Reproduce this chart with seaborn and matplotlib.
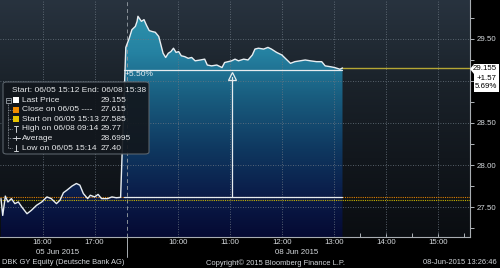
import numpy as np
import pandas as pd
import matplotlib
matplotlib.use("Agg")
import matplotlib.pyplot as plt
import seaborn as sns
from matplotlib.colors import LinearSegmentedColormap
from matplotlib.patches import FancyBboxPatch, Rectangle, Polygon
from matplotlib.lines import Line2D

# ---------------- data ----------------
day1_times = ["15:12", "15:14", "15:17", "15:20", "15:24", "15:28", "15:32", "15:36",
              "15:42", "15:47", "15:53", "15:59", "16:05", "16:10", "16:16", "16:20",
              "16:24", "16:28", "16:34", "16:39", "16:43", "16:47", "16:52", "16:55",
              "17:00", "17:04", "17:08", "17:15", "17:20", "17:25", "17:30"]
day1_prices = [27.60, 27.40, 27.63, 27.56, 27.60, 27.54, 27.56, 27.50,
               27.42, 27.46, 27.52, 27.56, 27.62, 27.60, 27.54, 27.58,
               27.67, 27.70, 27.75, 27.78, 27.76, 27.66, 27.60, 27.64,
               27.62, 27.65, 27.60, 27.60, 27.62, 27.61, 27.615]

day2_times = ["09:00", "09:04", "09:07", "09:11", "09:13", "09:14", "09:18", "09:21",
              "09:24", "09:27", "09:30", "09:34", "09:38", "09:40", "09:43", "09:46",
              "09:49", "09:52", "09:55", "09:58", "10:01", "10:04", "10:08", "10:12",
              "10:16", "10:20", "10:26", "10:31", "10:34", "10:39", "10:45", "10:51",
              "10:54", "10:58", "11:02", "11:06", "11:10", "11:16", "11:21", "11:26",
              "11:29", "11:33", "11:39", "11:44", "11:48", "11:54", "12:00", "12:06",
              "12:10", "12:15", "12:21", "12:27", "12:33", "12:40", "12:46", "12:50",
              "12:56", "13:01", "13:07", "13:10"]
day2_prices = [29.40, 29.51, 29.61, 29.65, 29.71, 29.77, 29.71, 29.73,
               29.66, 29.60, 29.59, 29.58, 29.53, 29.45, 29.33, 29.28,
               29.33, 29.35, 29.39, 29.34, 29.35, 29.30, 29.29, 29.27,
               29.28, 29.24, 29.25, 29.26, 29.19, 29.18, 29.19, 29.16,
               29.22, 29.23, 29.24, 29.26, 29.24, 29.26, 29.25, 29.31,
               29.38, 29.39, 29.38, 29.40, 29.38, 29.34, 29.31, 29.25,
               29.21, 29.23, 29.24, 29.25, 29.24, 29.23, 29.23, 29.18,
               29.17, 29.16, 29.14, 29.155]

last_price = 29.155
prev_close = 27.615
start_price = 27.585
band_level = 29.13
arrow_time = "11:02"
band_label = "+5.50%"
price_box = ["29.155", "+1.57", "5.69%"]

day1_hours = ["16:00", "17:00"]
day2_hours = ["10:00", "11:00", "12:00", "13:00", "14:00", "15:00"]
day1_label = "05 Jun 2015"
day2_label = "08 Jun 2015"
y_ticks = [27.50, 28.00, 28.50, 29.00, 29.50]
y_tick_labels = ["27.50", "28.00", "28.50", "", "29.50"]

legend_header = "Start: 06/05 15:12 End: 06/08 15:38"
legend_labels = ["Last Price", "Close on 06/05 ----", "Start on 06/05 15:13",
                 "High on 06/08 09:14", "Average", "Low on 06/05 15:14"]
legend_values = ["29.155", "27.615", "27.585", "29.77", "28.6995", "27.40"]

footer_left = "DBK GY Equity (Deutsche Bank AG)"
footer_mid = "Copyright\u00a9 2015 Bloomberg Finance L.P."
footer_right = "08-Jun-2015 13:26:46"

# ---------------- helpers ----------------
DAY2_OFFSET = 144

def pos(t, day):
    h, m = map(int, t.split(":"))
    if day == 1:
        return (h * 60 + m) - (15 * 60 + 12)
    return DAY2_OFFSET + (h * 60 + m) - 9 * 60

W, H = 500, 268
def fx(x): return x / W
def fy(y): return 1 - y / H

sns.set_theme(style="dark")
plt.rcParams["font.family"] = ["Liberation Sans", "DejaVu Sans"]

fig = plt.figure(figsize=(5.0, 2.68), dpi=100, facecolor="black")
ax = fig.add_axes([0, 1 - 237 / H, 470 / W, 237 / H])

XMIN, XMAX = -1.15, 541.1
YMIN, YMAX = 27.143, 29.964

df = pd.DataFrame({
    "pos": [pos(t, 1) for t in day1_times] + [pos(t, 2) for t in day2_times],
    "price": day1_prices + day2_prices,
})

# background gradient
bg_cmap = LinearSegmentedColormap.from_list("bg", ["#0a0d11", "#12171d", "#1b232b", "#28333f"])
grad = np.linspace(0, 1, 256).reshape(-1, 1)
ax.imshow(grad, extent=[XMIN, XMAX, YMIN, YMAX], origin="lower", aspect="auto",
          cmap=bg_cmap, zorder=0)

# fill gradient clipped to area under the price
fill_cmap = LinearSegmentedColormap.from_list(
    "fill", [(0.0, "#050a33"), (0.17, "#0a1b48"), (0.37, "#0f3860"),
             (0.6, "#195e80"), (0.78, "#2582a2"), (1.0, "#3098b0")])
poly = ax.fill_between(df["pos"], df["price"], YMIN, facecolor="none", edgecolor="none")
im = ax.imshow(grad, extent=[XMIN, XMAX, YMIN, YMAX], origin="lower", aspect="auto",
               cmap=fill_cmap, zorder=1)
im.set_clip_path(poly.get_paths()[0], transform=ax.transData)

# grid
grid_kw = dict(color="#6c7782", lw=0.6, ls=(0, (1, 2)), zorder=2)
for yv in y_ticks:
    ax.axhline(yv, **grid_kw)
hour_pos = [pos(t, 1) for t in day1_hours] + [pos(t, 2) for t in day2_hours]
for xv in hour_pos:
    ax.axvline(xv, **grid_kw)
sep = DAY2_OFFSET + 1
ax.axvline(sep, color="#8a9299", lw=0.7, ls=(0, (4, 3)), zorder=2)

# reference lines
ax.axhline(prev_close, color="#e08000", lw=0.8, ls=(0, (1, 1)), zorder=3)
ax.axhline(start_price, color="#c9b400", lw=0.8, ls=(0, (1, 1)), zorder=3)
d2s, d2e = pos(day2_times[0], 2) - 2, pos(day2_times[-1], 2)
ax.plot([d2s, d2e], [prev_close, prev_close], color="#e6ecef", lw=0.9, zorder=3)
ax.plot([d2s, d2e], [band_level, band_level], color="#e6ecef", lw=0.9, zorder=3)
ax.plot([d2e, XMAX], [last_price, last_price], color="#b5a634", lw=1.0, zorder=3)
xa = pos(arrow_time, 2)
ax.plot([xa, xa], [prev_close, band_level - 0.08], color="#e6ecef", lw=0.9, zorder=3)
ax.plot([xa], [band_level - 0.075], marker="^", ms=6, mfc="none", mec="#e6ecef", mew=0.9, zorder=3)

# price line
sns.lineplot(data=df, x="pos", y="price", color="#e8eef2", lw=1.0, estimator=None,
             sort=False, ax=ax, zorder=5)

ax.set_xlim(XMIN, XMAX)
ax.set_ylim(YMIN, YMAX)
ax.set_xlabel("")
ax.set_ylabel("")
ax.grid(False)

# axes styling
for s in ["left", "top"]:
    ax.spines[s].set_visible(False)
for s in ["right", "bottom"]:
    ax.spines[s].set_visible(True)
    ax.spines[s].set_color("#a8adb2")
    ax.spines[s].set_linewidth(0.8)

ax.set_xticks(hour_pos)
ax.set_xticklabels(day1_hours + day2_hours)
minor_x = [pos("15:30", 1), pos("16:30", 1), pos("17:30", 1), pos("09:00", 2)] + \
          [pos(f"{h:02d}:30", 2) for h in range(9, 16)]
ax.set_xticks(minor_x, minor=True)
ax.tick_params(axis="x", which="both", direction="in", length=3, width=0.7, color="#b0b5ba",
               labelcolor="#d4d8dc", labelsize=5.7, pad=1.5, bottom=True)

ax.yaxis.tick_right()
ax.set_yticks(y_ticks)
ax.set_yticklabels(y_tick_labels)
ax.set_yticks(np.arange(27.25, 29.9, 0.25), minor=True)
ax.tick_params(axis="y", which="both", direction="out", length=3, width=0.7, color="#b0b5ba",
               labelcolor="#d4d8dc", labelsize=5.7, pad=1.5, right=True, left=False)

# date labels under ticks
fig.text(fx(58), fy(253), day1_label, ha="center", va="center", fontsize=5.7, color="#d4d8dc")
fig.text(fx(297), fy(253), day2_label, ha="center", va="center", fontsize=5.7, color="#d4d8dc")
fig.add_artist(Line2D([fx(127), fx(127)], [fy(237), fy(257)], color="#a8adb2", lw=0.7))

# footer
fig.text(fx(2), fy(263), footer_left, ha="left", va="center", fontsize=5.4, color="#d4d8dc")
fig.text(fx(275), fy(263), footer_mid, ha="center", va="center", fontsize=5.4, color="#d4d8dc")
fig.text(fx(497), fy(263), footer_right, ha="right", va="center", fontsize=5.4, color="#d4d8dc")

# "+5.50%" band label
fig.text(fx(125), fy(74), band_label, ha="left", va="center", fontsize=6, color="#e6ecef", zorder=10)

# right price box
box = Polygon([(fx(470), fy(69)), (fx(474), fy(64)), (fx(499), fy(64)), (fx(499), fy(92)),
               (fx(474), fy(92)), (fx(474), fy(74))], closed=True, transform=fig.transFigure,
              facecolor="white", edgecolor="none", zorder=10)
fig.add_artist(box)
for i, s in enumerate(price_box):
    fig.text(fx(497), fy(69 + 9 * i), s, ha="right", va="center", fontsize=5.7,
             color="black", zorder=11)

# legend box
lb = FancyBboxPatch((fx(3), fy(154)), fx(146), (154 - 82) / H,
                    boxstyle="round,pad=0,rounding_size=0.008", transform=fig.transFigure,
                    facecolor="#12171d", alpha=0.92, edgecolor="#5f6870", lw=0.8, zorder=20)
fig.add_artist(lb)
txt_kw = dict(fontsize=6, color="#e6e8ea", va="center", zorder=21)
fig.text(fx(12), fy(90.5), legend_header, ha="left", **txt_kw)
rows_y = [100, 109.6, 119.2, 128.8, 138.4, 148]
for yrow, lab, val in zip(rows_y, legend_labels, legend_values):
    fig.text(fx(22), fy(yrow), lab, ha="left", **txt_kw)
    fig.text(fx(101), fy(yrow), val, ha="left", **txt_kw)

line_kw = dict(transform=fig.transFigure, color="#9aa1a8", lw=0.6, zorder=21)
# tree
fig.add_artist(Rectangle((fx(5.5), fy(102.5)), 5 / W, 5 / H, transform=fig.transFigure,
                         facecolor="none", edgecolor="#9aa1a8", lw=0.6, zorder=21))
fig.add_artist(Line2D([fx(6.5), fx(9.5)], [fy(100), fy(100)], **line_kw))
fig.add_artist(Line2D([fx(8), fx(8)], [fy(102.5), fy(148)], ls=(0, (1, 1)), **line_kw))
for yrow in rows_y[1:]:
    fig.add_artist(Line2D([fx(8), fx(12)], [fy(yrow), fy(yrow)], ls=(0, (1, 1)), **line_kw))
# icons
for yrow, c in zip(rows_y[:3], ["#ffffff", "#f08c00", "#e8c400"]):
    fig.add_artist(Rectangle((fx(13), fy(yrow + 3)), 6 / W, 6 / H, transform=fig.transFigure,
                             facecolor=c, edgecolor="none", zorder=21))
ic = dict(transform=fig.transFigure, color="#d0d4d8", lw=0.7, zorder=21)
y = rows_y[3]
fig.add_artist(Line2D([fx(16), fx(16)], [fy(y - 3), fy(y + 3)], **ic))
fig.add_artist(Line2D([fx(14), fx(18)], [fy(y - 3), fy(y - 3)], **ic))
y = rows_y[4]
fig.add_artist(Line2D([fx(12.5), fx(19.5)], [fy(y), fy(y)], **ic))
fig.add_artist(Line2D([fx(16), fx(16)], [fy(y - 2), fy(y + 2)], **ic))
y = rows_y[5]
fig.add_artist(Line2D([fx(16), fx(16)], [fy(y - 3), fy(y + 3)], **ic))
fig.add_artist(Line2D([fx(14), fx(18)], [fy(y + 3), fy(y + 3)], **ic))

fig.savefig("out.png", dpi=100, facecolor="black")
